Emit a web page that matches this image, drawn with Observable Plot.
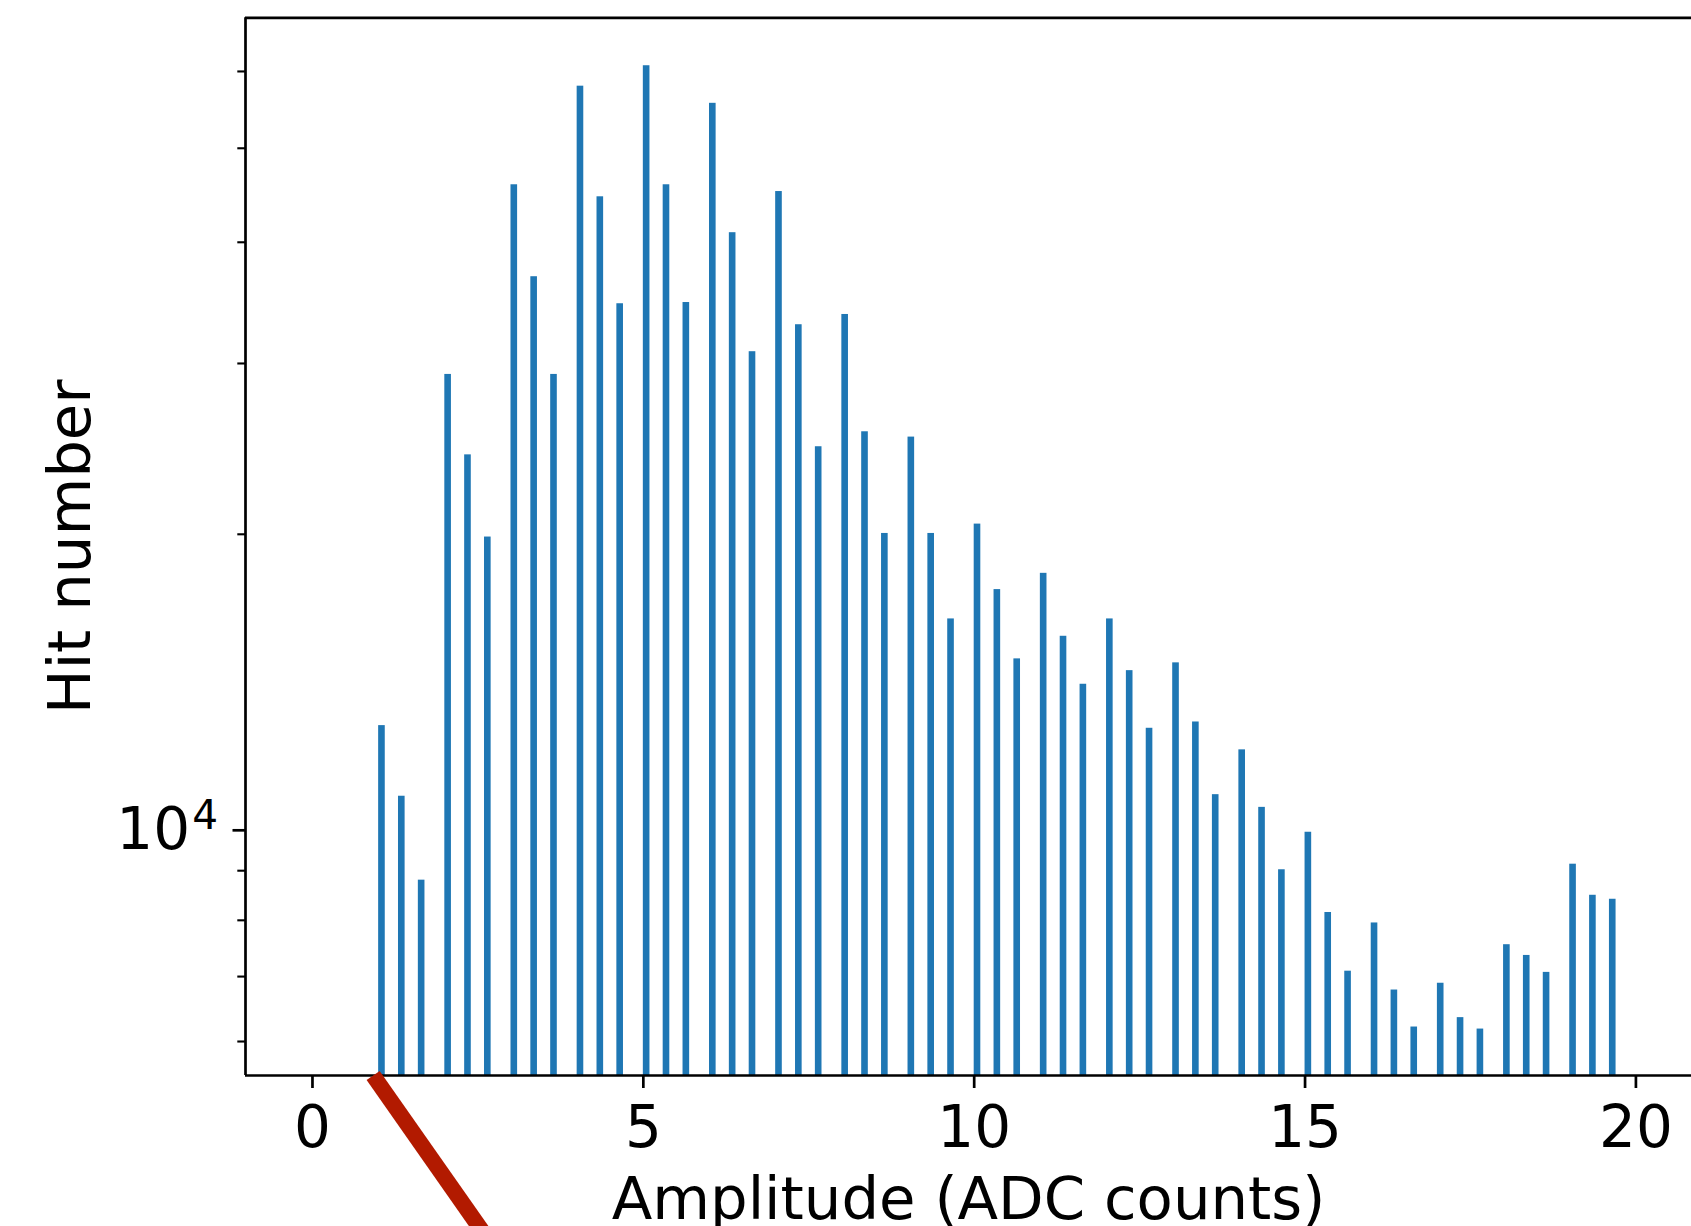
<!DOCTYPE html>
<html>
<head>
<meta charset="utf-8">
<script src="https://cdn.jsdelivr.net/npm/d3@7"></script>
<script src="https://cdn.jsdelivr.net/npm/@observablehq/plot@0.6"></script>
<style>
  html, body { margin: 0; padding: 0; background: #fff; overflow: hidden; }
  #chart svg { display: block; }
</style>
</head>
<body>
<div id="chart"></div>
<script>
// Bin left edges (ADC counts) and hit counts
const amplitude = [
  1.0, 1.3, 1.6,  2.0, 2.3, 2.6,  3.0, 3.3, 3.6,  4.0, 4.3, 4.6,
  5.0, 5.3, 5.6,  6.0, 6.3, 6.6,  7.0, 7.3, 7.6,  8.0, 8.3, 8.6,
  9.0, 9.3, 9.6,  10.0, 10.3, 10.6,  11.0, 11.3, 11.6,  12.0, 12.3, 12.6,
  13.0, 13.3, 13.6,  14.0, 14.3, 14.6,  15.0, 15.3, 15.6,  16.0, 16.3, 16.6,
  17.0, 17.3, 17.6,  18.0, 18.3, 18.6,  19.0, 19.3, 19.6
];
const hits = [
  12700, 10740, 8800,   29230, 24150, 19870,  45850, 36860, 29230,
  57940, 44560, 34570,  60820, 45850, 34670,  55630, 40920, 30850,
  45120, 32890, 24620,  33700, 25510, 20040,  25190, 20040, 16360,
  20490, 17540, 14880,  18230, 15700, 14010,  16360, 14470, 12620,
  14740, 12810, 10780,  11990, 10460, 9020,   9860, 8150, 7090,
  7950, 6780, 6210,     6890, 6350, 6180,     7550, 7360, 7070,
  9140, 8490, 8410
];
const binWidth = 0.1;

const xDomain = [-1.012, 20.84];
const yDomain = [5535, 68150];
const xTicks = [0, 5, 10, 15, 20];
const yMajorTicks = [10000];
const yMinorTicks = [6000, 7000, 8000, 9000, 20000, 30000, 40000, 50000, 60000];

const xLabel = "Amplitude (ADC counts)";
const yLabel = "Hit number";

// annotation pointer (data coordinates)
const pointer = [{x: 0.917, y: 5535}, {x: 3.30, y: 3245}];

const data = amplitude.map((a, i) => ({a, a2: a + binWidth, h: hits[i]}));

const FONT = 58;
const LABEL_FONT = 59.3;

const plot = Plot.plot({
  width: 1691,
  height: 1226,
  marginLeft: 245,
  marginRight: 0,
  marginTop: 17.3,
  marginBottom: 151,
  style: {fontFamily: "'DejaVu Sans', sans-serif", fontSize: FONT + "px", color: "#000", background: "#fff"},
  x: {domain: xDomain},
  y: {type: "log", domain: yDomain},
  marks: [
    Plot.rectY(data, {x1: "a", x2: "a2", y1: yDomain[0], y2: "h", fill: "#1f77b4", inset: 0}),
    Plot.axisX({ticks: xTicks, tickSize: 13, tickPadding: 17, strokeWidth: 2.7, label: null, fontSize: FONT, tickFormat: d => String(d)}),
    Plot.axisY({ticks: yMajorTicks, tickSize: 12.5, tickPadding: 15, strokeWidth: 2.7, label: null, fontSize: FONT, tickFormat: () => "10^4", dy: 4}),
    Plot.axisY({ticks: yMinorTicks, tickSize: 7.7, strokeWidth: 2.1, label: null, tickFormat: () => ""}),
    Plot.ruleX([xDomain[0]], {stroke: "#000", strokeWidth: 2.7}),
    Plot.ruleY([yDomain[0], yDomain[1]], {stroke: "#000", strokeWidth: 2.7}),
    Plot.text([xLabel], {text: d => d, frameAnchor: "bottom", dy: 143, lineAnchor: "bottom", textAnchor: "middle", fontSize: LABEL_FONT, fill: "#000"}),
    Plot.text([yLabel], {text: d => d, frameAnchor: "left", dx: -156, rotate: -90, lineAnchor: "bottom", textAnchor: "middle", fontSize: LABEL_FONT, fill: "#000"}),
    Plot.line(pointer, {x: "x", y: "y", stroke: "#b21a00", strokeWidth: 16, strokeLinecap: "butt"})
  ]
});

document.getElementById("chart").appendChild(plot);

// render "10^4" with a real superscript
plot.querySelectorAll('[aria-label="y-axis tick label"] text').forEach(t => {
  if (t.textContent === "10^4") {
    t.textContent = "";
    const ns = "http://www.w3.org/2000/svg";
    const base = document.createElementNS(ns, "tspan");
    base.textContent = "10";
    const sup = document.createElementNS(ns, "tspan");
    sup.textContent = "4";
    sup.setAttribute("dy", "-20");
    sup.setAttribute("dx", "2");
    sup.setAttribute("font-size", (FONT * 0.7) + "px");
    t.appendChild(base);
    t.appendChild(sup);
  }
});
</script>
</body>
</html>
